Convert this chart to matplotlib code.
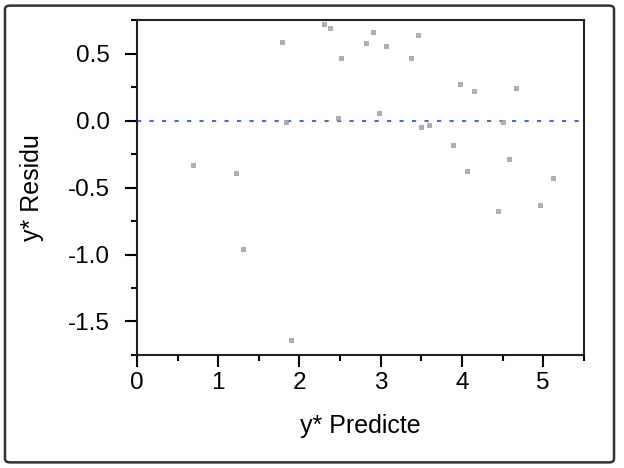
import numpy as np
import matplotlib
matplotlib.use("Agg")
import matplotlib.pyplot as plt
from matplotlib.patches import FancyBboxPatch
from matplotlib.ticker import MultipleLocator

plt.rcParams['font.family'] = ['Liberation Sans', 'DejaVu Sans']

# predicted values and residuals
y_pred = [0.69, 1.22, 1.30, 1.78, 1.84, 1.90, 2.30, 2.38, 2.47, 2.51,
          2.82, 2.91, 2.98, 3.07, 3.37, 3.46, 3.50, 3.59, 3.89, 3.98,
          4.06, 4.15, 4.44, 4.50, 4.58, 4.66, 4.96, 5.12]
resid = [-0.33, -0.39, -0.96, 0.59, -0.01, -1.64, 0.72, 0.69, 0.02, 0.47,
         0.58, 0.66, 0.06, 0.56, 0.47, 0.64, -0.045, -0.03, -0.18, 0.27,
         -0.38, 0.22, -0.675, -0.01, -0.29, 0.24, -0.63, -0.43]

x_ticks = [0, 1, 2, 3, 4, 5]
y_ticks = [-1.5, -1.0, -0.5, 0.0, 0.5]

fig = plt.figure(figsize=(6.24, 4.68), dpi=100)
ax = fig.add_axes([0.2196, 0.2415, 0.716, 0.7155])

# outer frame
frame = FancyBboxPatch((0.008, 0.012), 0.976, 0.976, boxstyle="round,pad=0,rounding_size=0.008",
                       transform=fig.transFigure, fill=False, ec='#333333', lw=1.8)
fig.patches.append(frame)

ax.axhline(0, color='#3f6fe0', lw=1.5, ls=(0, (2, 4)), zorder=1)
ax.scatter(y_pred, resid, marker='s', s=7, c='#b0b0b0', edgecolors='#999999',
           linewidths=0.5, zorder=2)

ax.set_xlim(0, 5.5)
ax.set_ylim(-1.75, 0.75)
ax.set_xticks(x_ticks)
ax.set_yticks(y_ticks)
ax.set_yticklabels(['%.1f' % v for v in y_ticks])
ax.xaxis.set_minor_locator(MultipleLocator(0.5))
ax.yaxis.set_minor_locator(MultipleLocator(0.25))
ax.tick_params(which='major', direction='out', length=8.5, width=1.5, labelsize=17.5)
ax.tick_params(which='minor', direction='out', length=4, width=1.5)
ax.tick_params(axis='x', which='major', pad=4)
ax.tick_params(axis='y', which='major', pad=11)

for s in ax.spines.values():
    s.set_linewidth(1.5)
    s.set_color('#222222')

ax.set_xlabel('y* Predicte', fontsize=18, labelpad=14)
ax.set_ylabel('y* Residu', fontsize=18, labelpad=17)

fig.savefig('out.png', dpi=100)
